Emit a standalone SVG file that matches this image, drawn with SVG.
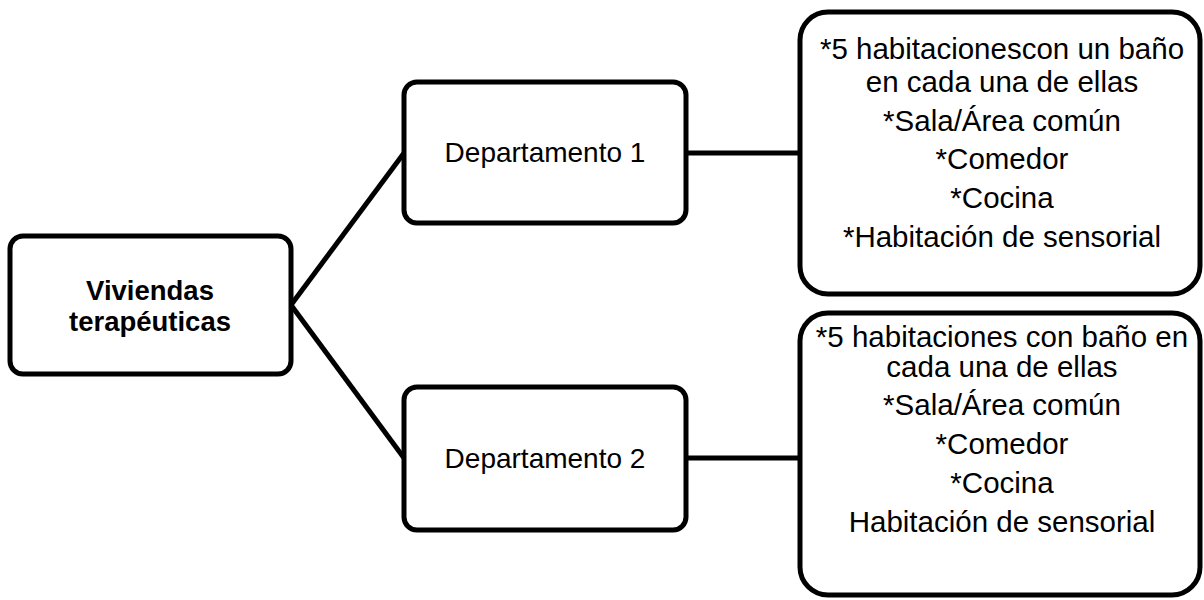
<svg xmlns="http://www.w3.org/2000/svg" width="1204" height="600" viewBox="0 0 1204 600">
<style>
.box{fill:#ffffff;stroke:#000000;stroke-width:5}
.conn{fill:none;stroke:#000000;stroke-width:5}
.t{font-family:"Liberation Sans",Arial,sans-serif;font-size:28px;fill:#000000;text-anchor:middle}
.b{font-weight:bold;font-size:27.5px}
.r{font-family:"Liberation Sans",Arial,sans-serif;font-size:29.5px;fill:#000000;text-anchor:middle}
</style>
<rect width="1204" height="600" fill="#ffffff"/>
<g id="connectors">
<line class="conn" x1="291" y1="305" x2="404" y2="153"/>
<line class="conn" x1="291" y1="305" x2="404" y2="458"/>
<line class="conn" x1="686" y1="153" x2="800" y2="153"/>
<line class="conn" x1="686" y1="458" x2="800" y2="458"/>
</g>
<g id="root">
<rect class="box" x="10" y="236" width="281" height="138" rx="13"/>
<text class="t b" x="150" y="300">Viviendas</text>
<text class="t b" x="150" y="331">terapéuticas</text>
</g>
<g id="dept1">
<rect class="box" x="404" y="82" width="282" height="141" rx="13"/>
<text class="t" x="545" y="162">Departamento 1</text>
</g>
<g id="dept2">
<rect class="box" x="404" y="387" width="282" height="143" rx="13"/>
<text class="t" x="545" y="468">Departamento 2</text>
</g>
<g id="detail1">
<rect class="box" x="800" y="12" width="400" height="282" rx="28"/>
<text class="r" x="1002" y="59">*5 habitacionescon un baño</text>
<text class="r" x="1002" y="92">en cada una de ellas</text>
<text class="r" x="1002" y="131">*Sala/Área común</text>
<text class="r" x="1002" y="169">*Comedor</text>
<text class="r" x="1002" y="208">*Cocina</text>
<text class="r" x="1002" y="247">*Habitación de sensorial</text>
</g>
<g id="detail2">
<rect class="box" x="800" y="313" width="400" height="282" rx="28"/>
<text class="r" x="1002" y="347">*5 habitaciones con baño en</text>
<text class="r" x="1002" y="377">cada una de ellas</text>
<text class="r" x="1002" y="415">*Sala/Área común</text>
<text class="r" x="1002" y="454">*Comedor</text>
<text class="r" x="1002" y="493">*Cocina</text>
<text class="r" x="1002" y="532">Habitación de sensorial</text>
</g>
</svg>
